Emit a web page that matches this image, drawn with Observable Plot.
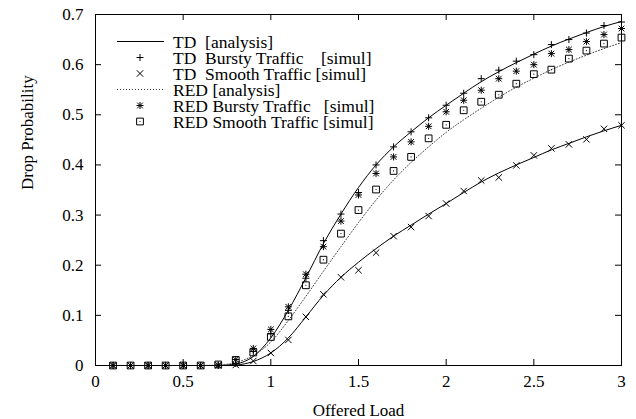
<!DOCTYPE html>
<html>
<head>
<meta charset="utf-8">
<script src="https://cdn.jsdelivr.net/npm/d3@7"></script>
<script src="https://cdn.jsdelivr.net/npm/@observablehq/plot@0.6"></script>
<style>
  html, body { margin: 0; padding: 0; background: white; }
  svg text { white-space: pre; }
</style>
</head>
<body>
<div id="chart"></div>
<script>
const load = [0.1,0.2,0.3,0.4,0.5,0.6,0.7,0.8,0.9,1.0,1.1,1.2,1.3,1.4,1.5,1.6,1.7,1.8,1.9,2.0,2.1,2.2,2.3,2.4,2.5,2.6,2.7,2.8,2.9,3.0];

const tdAnalysisBursty = [0,0,0,0,0,0,0,0.003,0.018,0.055,0.11,0.175,0.243,0.302,0.355,0.40,0.436,0.466,0.494,0.519,0.543,0.566,0.586,0.604,0.621,0.637,0.651,0.664,0.676,0.686];
const tdAnalysisSmooth = [0,0,0,0,0,0,0,0.001,0.008,0.025,0.055,0.097,0.14,0.176,0.206,0.233,0.258,0.28,0.302,0.323,0.345,0.366,0.384,0.40,0.415,0.43,0.443,0.456,0.468,0.479];
const redAnalysis = [0,0,0,0,0,0,0.001,0.006,0.02,0.047,0.09,0.138,0.188,0.237,0.285,0.33,0.37,0.405,0.436,0.465,0.49,0.513,0.535,0.555,0.573,0.59,0.605,0.619,0.632,0.644];

const tdBurstySimul = [0,0,0,0,0,0,0,0.004,0.028,0.063,0.11,0.174,0.249,0.302,0.345,0.40,0.436,0.466,0.494,0.519,0.543,0.572,0.589,0.607,0.62,0.64,0.65,0.663,0.678,0.685];
const tdSmoothSimul = [0,0,0,0,0,0,0,0.001,0.009,0.025,0.051,0.097,0.142,0.176,0.19,0.225,0.258,0.276,0.298,0.323,0.348,0.369,0.375,0.399,0.419,0.433,0.441,0.451,0.472,0.479];
const redBurstySimul = [0,0,0,0,0,0,0.001,0.012,0.034,0.072,0.117,0.182,0.237,0.288,0.34,0.383,0.416,0.446,0.477,0.506,0.529,0.549,0.572,0.587,0.60,0.622,0.63,0.646,0.66,0.672];
const redSmoothSimul = [0,0,0,0,0,0,0.002,0.011,0.026,0.057,0.098,0.16,0.211,0.263,0.31,0.351,0.388,0.416,0.453,0.48,0.509,0.526,0.54,0.562,0.581,0.59,0.612,0.628,0.642,0.654];

const xTicks = [0,0.5,1,1.5,2,2.5,3];
const xTickLabels = ["0","0.5","1","1.5","2","2.5","3"];
const yTicks = [0,0.1,0.2,0.3,0.4,0.5,0.6,0.7];
const yTickLabels = ["0","0.1","0.2","0.3","0.4","0.5","0.6","0.7"];

const legendLabels = [
  "TD  [analysis]",
  "TD  Bursty Traffic    [simul]",
  "TD  Smooth Traffic [simul]",
  "RED [analysis]",
  "RED Bursty Traffic   [simul]",
  "RED Smooth Traffic [simul]"
];

const toPts = (ys) => load.map((x, i) => ({x, y: ys[i]}));

const W = 636, H = 419, mL = 95, mR = 15, mT = 14, mB = 54;
const fw = W - mL - mR, fh = H - mT - mB;
const FONT = "Liberation Serif, Times New Roman, serif";
const dotted = {stroke: "#444", strokeWidth: 1, strokeDasharray: "1,2"};
const R_PLUS = 2.4, R_TIMES = 3.0, R_SQ = 4.3, R_STAR_P = 2.4, R_STAR_T = 2.7;

const plot = Plot.plot({
  width: W, height: H,
  marginLeft: mL, marginRight: mR, marginTop: mT, marginBottom: mB,
  style: {fontFamily: FONT, fontSize: "17px", background: "white", color: "black", overflow: "visible"},
  x: {domain: [0, 3]},
  y: {domain: [0, 0.7]},
  marks: [
    Plot.line(toPts(tdAnalysisBursty), {x: "x", y: "y", curve: "monotone-x", stroke: "black", strokeWidth: 1}),
    Plot.line(toPts(tdAnalysisSmooth), {x: "x", y: "y", curve: "monotone-x", stroke: "black", strokeWidth: 1}),
    Plot.line(toPts(redAnalysis), {x: "x", y: "y", curve: "monotone-x", ...dotted}),
    Plot.dot(toPts(tdBurstySimul), {x: "x", y: "y", symbol: "plus", r: R_PLUS, stroke: "black", strokeWidth: 1}),
    Plot.dot(toPts(tdSmoothSimul), {x: "x", y: "y", symbol: "times", r: R_TIMES, stroke: "black", strokeWidth: 1}),
    Plot.dot(toPts(redBurstySimul), {x: "x", y: "y", symbol: "plus", r: R_STAR_P, stroke: "black", strokeWidth: 1}),
    Plot.dot(toPts(redBurstySimul), {x: "x", y: "y", symbol: "times", r: R_STAR_T, stroke: "black", strokeWidth: 1}),
    Plot.dot(toPts(redSmoothSimul), {x: "x", y: "y", symbol: "square2", r: R_SQ, stroke: "black", strokeWidth: 1}),
    Plot.dot(toPts(redSmoothSimul), {x: "x", y: "y", r: 0.6, fill: "black", stroke: null}),
    Plot.frame({stroke: "black", strokeWidth: 1}),
    Plot.tickX(xTicks, {x: d => d, insetTop: fh - 6, stroke: "black"}),
    Plot.tickX(xTicks, {x: d => d, insetBottom: fh - 6, stroke: "black"}),
    Plot.tickY(yTicks, {y: d => d, insetRight: fw - 6, stroke: "black"}),
    Plot.tickY(yTicks, {y: d => d, insetLeft: fw - 6, stroke: "black"}),
    Plot.axisX(xTicks, {tickSize: 0, tickPadding: 9, tickFormat: (d, i) => xTickLabels[i], label: null, fontSize: 17}),
    Plot.axisY(yTicks, {tickSize: 0, tickPadding: 12, tickFormat: (d, i) => yTickLabels[i], label: null, fontSize: 17}),
    Plot.text(["Offered Load"], {frameAnchor: "bottom", dy: 45, fontSize: 17, lineAnchor: "middle"}),
    Plot.text(["Drop Probability"], {frameAnchor: "left", dx: -68, rotate: -90, fontSize: 17, lineAnchor: "middle"})
  ]
});

document.getElementById("chart").appendChild(plot);

// Legend (layout elements)
const svg = d3.select(plot);
const lg = svg.append("g").attr("font-family", FONT).attr("font-size", 17.5).attr("text-anchor", "start");
const rowY = [41.5, 57.5, 73.5, 89.5, 105.5, 121.5];
const sx = 140, tx = 173;
const sym = (type, r) => d3.symbol(type, Math.PI * r * r)();
const addSym = (type, r, y) => lg.append("path").attr("d", sym(type, r))
  .attr("transform", `translate(${sx},${y})`).attr("stroke", "black").attr("fill", "none");
legendLabels.forEach((label, i) => {
  const y = rowY[i];
  if (i === 0) {
    lg.append("line").attr("x1", 117).attr("x2", 164).attr("y1", y).attr("y2", y).attr("stroke", "black");
  } else if (i === 3) {
    lg.append("line").attr("x1", 117).attr("x2", 164).attr("y1", y).attr("y2", y)
      .attr("stroke", dotted.stroke).attr("stroke-dasharray", dotted.strokeDasharray);
  } else if (i === 1) {
    addSym(d3.symbolPlus, R_PLUS, y);
  } else if (i === 2) {
    addSym(d3.symbolTimes, R_TIMES, y);
  } else if (i === 4) {
    addSym(d3.symbolPlus, R_STAR_P, y);
    addSym(d3.symbolTimes, R_STAR_T, y);
  } else if (i === 5) {
    addSym(d3.symbolSquare2, R_SQ, y);
    lg.append("circle").attr("cx", sx).attr("cy", y).attr("r", 0.6).attr("fill", "black");
  }
  lg.append("text").attr("x", tx).attr("y", y).attr("dy", "0.35em").attr("text-anchor", "start")
    .attr("xml:space", "preserve").style("white-space", "pre").text(label);
});
</script>
</body>
</html>
